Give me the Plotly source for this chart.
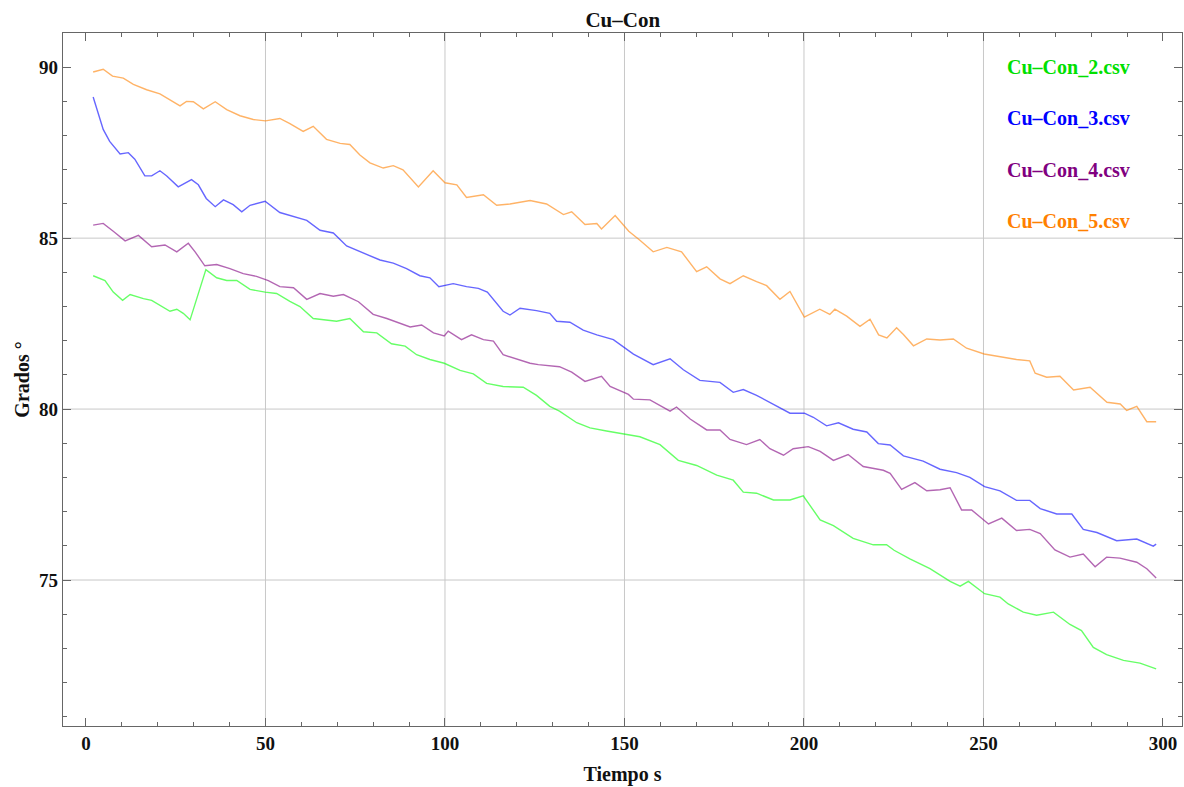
import plotly.graph_objects as go

# ---- data (time in s, angle in degrees) ----
t_con2 = [2.0, 5.3, 7.6, 10.2, 12.3, 16.0, 18.3, 20.6, 23.4, 25.3, 27.1, 29.0, 33.4, 36.4, 39.2, 42.0,
          45.7, 49.9, 53.1, 56.8, 59.6, 63.3, 67.0, 69.8, 73.5, 77.3, 81.0, 85.1, 88.9, 92.1, 95.8,
          99.8, 104.2, 107.9, 111.6, 116.2, 121.8, 125.5, 129.2, 131.9, 136.7, 140.4, 145.0, 151.1,
          154.3, 159.9, 165.0, 170.1, 175.7, 180.3, 183.1, 186.8, 191.5, 196.1, 199.8, 204.5, 208.2,
          213.7, 219.3, 223.0, 225.1, 229.5, 235.1, 240.7, 243.5, 245.8, 250.3, 254.6, 256.9, 261.1,
          264.8, 269.5, 274.1, 277.3, 280.6, 284.3, 289.0, 293.6, 298.1]
y_con2 = [83.9, 83.76, 83.42, 83.18, 83.35, 83.23, 83.18, 83.03, 82.86, 82.92, 82.8, 82.61, 84.08, 83.84,
          83.76, 83.76, 83.5, 83.42, 83.38, 83.15, 83.0, 82.65, 82.61, 82.57, 82.65, 82.26, 82.23, 81.91,
          81.84, 81.59, 81.45, 81.34, 81.13, 81.03, 80.75, 80.66, 80.64, 80.4, 80.08, 79.94, 79.6, 79.45,
          79.36, 79.25, 79.19, 78.96, 78.5, 78.35, 78.07, 77.92, 77.57, 77.54, 77.34, 77.34, 77.46, 76.76,
          76.59, 76.22, 76.03, 76.03, 75.87, 75.62, 75.33, 74.96, 74.82, 74.96, 74.6, 74.5, 74.3, 74.06,
          73.97, 74.06, 73.7, 73.52, 73.03, 72.82, 72.65, 72.57, 72.4]

t_con3 = [2.0, 3.5, 4.8, 6.6, 9.5, 11.8, 13.6, 16.4, 18.3, 20.6, 22.5, 25.7, 29.4, 31.3, 33.5, 36.0, 38.3,
          41.0, 43.4, 45.7, 49.9, 54.0, 57.8, 61.5, 65.2, 68.9, 72.6, 75.9, 77.3, 81.9, 85.6, 89.3, 93.0,
          95.8, 98.3, 102.3, 106.0, 109.3, 111.8, 113.7, 116.2, 118.1, 120.9, 125.5, 129.2, 131.1, 134.8,
          138.5, 142.3, 146.9, 151.1, 152.5, 158.0, 162.7, 166.4, 171.0, 176.6, 180.3, 183.1, 186.8, 191.5,
          196.1, 200.1, 202.6, 206.3, 209.6, 213.7, 217.5, 220.7, 224.0, 227.7, 233.2, 237.9, 242.5, 246.2,
          250.3, 254.6, 259.2, 262.9, 265.8, 270.4, 274.6, 277.8, 281.6, 287.1, 292.7, 297.3, 298.1]
y_con3 = [89.13, 88.58, 88.18, 87.83, 87.46, 87.5, 87.31, 86.82, 86.82, 86.97, 86.82, 86.5, 86.71, 86.56,
          86.16, 85.92, 86.12, 85.98, 85.77, 85.96, 86.08, 85.75, 85.64, 85.52, 85.23, 85.15, 84.77, 84.62,
          84.57, 84.36, 84.27, 84.11, 83.9, 83.84, 83.58, 83.67, 83.58, 83.53, 83.42, 83.18, 82.86, 82.75,
          82.95, 82.88, 82.8, 82.57, 82.54, 82.31, 82.17, 82.03, 81.7, 81.61, 81.3, 81.47, 81.15, 80.84,
          80.78, 80.49, 80.57, 80.4, 80.14, 79.88, 79.88, 79.76, 79.51, 79.6, 79.41, 79.33, 78.99, 78.95,
          78.63, 78.48, 78.24, 78.14, 78.0, 77.73, 77.61, 77.33, 77.33, 77.09, 76.93, 76.93, 76.48, 76.39,
          76.15, 76.2, 75.99, 76.05]

t_con4 = [2.0, 4.8, 7.6, 10.9, 14.6, 18.3, 22.0, 25.3, 28.5, 30.4, 33.1, 36.4, 40.1, 43.8, 47.5, 50.8,
          54.0, 57.8, 61.5, 65.2, 68.9, 71.7, 75.9, 80.0, 83.8, 87.5, 90.3, 93.5, 96.8, 99.8, 100.9,
          104.6, 107.4, 110.7, 113.5, 116.2, 120.0, 123.7, 126.0, 129.2, 131.9, 135.3, 139.0, 143.6,
          146.0, 151.1, 152.5, 157.1, 162.7, 164.5, 168.3, 172.9, 176.6, 179.4, 184.0, 187.7, 190.5,
          194.3, 197.0, 201.2, 204.5, 208.2, 212.3, 216.5, 222.1, 224.0, 227.2, 230.9, 234.2, 237.9,
          240.7, 243.9, 246.7, 251.4, 255.1, 259.2, 262.9, 265.8, 269.9, 274.1, 277.8, 281.1, 284.3,
          288.0, 292.7, 295.5, 298.1]
y_con4 = [85.38, 85.43, 85.2, 84.92, 85.08, 84.75, 84.8, 84.6, 84.85, 84.6, 84.19, 84.23, 84.11, 83.96,
          83.88, 83.76, 83.58, 83.55, 83.21, 83.38, 83.3, 83.35, 83.14, 82.77, 82.65, 82.51, 82.4, 82.46,
          82.23, 82.14, 82.28, 82.03, 82.17, 82.03, 81.99, 81.59, 81.47, 81.34, 81.3, 81.27, 81.24, 81.08,
          80.81, 80.96, 80.66, 80.43, 80.29, 80.27, 79.94, 80.06, 79.71, 79.39, 79.39, 79.11, 78.96, 79.11,
          78.84, 78.65, 78.84, 78.9, 78.76, 78.5, 78.67, 78.32, 78.21, 78.12, 77.65, 77.85, 77.61, 77.64,
          77.7, 77.05, 77.05, 76.64, 76.81, 76.45, 76.48, 76.36, 75.88, 75.67, 75.76, 75.39, 75.67, 75.64,
          75.52, 75.33, 75.06]

t_con5 = [2.0, 4.8, 7.4, 10.4, 13.2, 16.9, 20.6, 23.4, 26.2, 28.0, 29.9, 32.7, 36.0, 39.2, 42.9, 46.6,
          50.0, 54.0, 56.8, 60.5, 63.3, 67.0, 70.8, 73.5, 76.3, 79.1, 82.8, 85.6, 88.3, 92.6, 96.7, 100.0,
          103.3, 106.0, 110.7, 114.4, 118.1, 123.7, 128.3, 133.0, 135.3, 139.0, 142.3, 143.6, 147.4, 151.2,
          154.3, 158.0, 161.8, 165.9, 170.1, 172.9, 176.6, 179.4, 183.1, 186.8, 189.6, 193.3, 196.1, 200.1,
          204.4, 207.2, 208.6, 211.9, 215.6, 218.4, 220.8, 223.1, 225.8, 227.7, 230.5, 234.2, 237.9, 241.6,
          245.3, 250.2, 254.6, 259.2, 262.9, 264.4, 267.6, 271.3, 275.1, 279.7, 284.4, 288.1, 289.9, 292.7,
          295.5, 298.1]
y_con5 = [89.86, 89.94, 89.74, 89.68, 89.5, 89.34, 89.22, 89.05, 88.87, 89.0, 88.99, 88.78, 88.99, 88.76,
          88.58, 88.47, 88.43, 88.5, 88.35, 88.12, 88.27, 87.89, 87.77, 87.74, 87.43, 87.2, 87.05, 87.12,
          87.0, 86.5, 86.97, 86.62, 86.56, 86.19, 86.27, 85.96, 86.0, 86.1, 86.0, 85.69, 85.77, 85.4, 85.43,
          85.27, 85.66, 85.2, 84.94, 84.6, 84.73, 84.6, 84.02, 84.16, 83.81, 83.67, 83.9, 83.73, 83.61, 83.21,
          83.44, 82.69, 82.92, 82.77, 82.92, 82.72, 82.42, 82.63, 82.17, 82.08, 82.38, 82.18, 81.85, 82.05,
          82.02, 82.05, 81.78, 81.61, 81.53, 81.45, 81.41, 81.05, 80.93, 80.96, 80.56, 80.64, 80.2, 80.15,
          79.96, 80.08, 79.63, 79.63]

series_names = ["Cu\u2013Con_2.csv", "Cu\u2013Con_3.csv", "Cu\u2013Con_4.csv", "Cu\u2013Con_5.csv"]
series_t = [t_con2, t_con3, t_con4, t_con5]
series_y = [y_con2, y_con3, y_con4, y_con5]
line_colors = ["rgba(0,255,0,0.6)", "rgba(0,0,255,0.6)", "rgba(128,0,128,0.6)", "rgba(255,128,0,0.6)"]
text_colors = ["#00e000", "#0000ff", "#800080", "#ff8000"]

x_grid = [50, 100, 150, 200, 250]
y_grid = [75, 80, 85]

SERIF = "Liberation Serif"

fig = go.Figure()
for name, t, y, c in zip(series_names, series_t, series_y, line_colors):
    fig.add_trace(go.Scatter(x=t, y=y, mode="lines", name=name,
                             line=dict(color=c, width=1.4)))

# grid lines like Mathematica (only inner majors)
for g in x_grid:
    fig.add_shape(type="line", xref="x", yref="paper", x0=g, x1=g, y0=0, y1=1,
                  line=dict(color="#c8c8c8", width=1), layer="below")
for g in y_grid:
    fig.add_shape(type="line", xref="paper", yref="y", x0=0, x1=1, y0=g, y1=g,
                  line=dict(color="#c8c8c8", width=1), layer="below")

# text legend, top right
legend_y = [90.0, 88.5, 87.0, 85.5]
for name, c, ly in zip(series_names, text_colors, legend_y):
    fig.add_annotation(x=0.8985, xref="paper", y=ly, yref="y", text=name, showarrow=False,
                       xanchor="center", yanchor="middle",
                       font=dict(family=SERIF, size=20, color=c, weight="bold"))

axis_common = dict(
    showgrid=False, zeroline=False, showline=True, linecolor="#666", linewidth=1.3,
    mirror="allticks", ticks="inside", tickcolor="#666", tickwidth=1, automargin=False,
    tickfont=dict(family=SERIF, size=19, color="#111", weight="bold"),
)

fig.update_xaxes(range=[-6.4, 305.3], tick0=0, dtick=50, ticklen=8,
                 minor=dict(dtick=10, ticks="inside", ticklen=4, tickcolor="#666", showgrid=False),
                 title=dict(text="Tiempo s", font=dict(family=SERIF, size=20, color="#111", weight="bold"),
                            standoff=14),
                 **axis_common)
fig.update_yaxes(range=[70.73, 91.0], tick0=75, dtick=5, ticklen=8,
                 minor=dict(dtick=1, ticks="inside", ticklen=4, tickcolor="#666", showgrid=False),
                 title=dict(text="Grados \u00b0", font=dict(family=SERIF, size=20, color="#111", weight="bold"),
                            standoff=4),
                 **axis_common)

fig.update_layout(
    width=1184, height=787,
    margin=dict(l=63, r=2, t=33, b=61),
    plot_bgcolor="white", paper_bgcolor="white",
    showlegend=False,
    title=dict(text="Cu\u2013Con", x=0.526, xanchor="center", y=0.975, yanchor="middle",
               font=dict(family=SERIF, size=21, color="#111", weight="bold")),
)

# page body has a default 8px margin; drop it so the figure fills the window
fig.write_html("out.html", config={"displayModeBar": False},
               post_script="document.body.style.margin='0';")
